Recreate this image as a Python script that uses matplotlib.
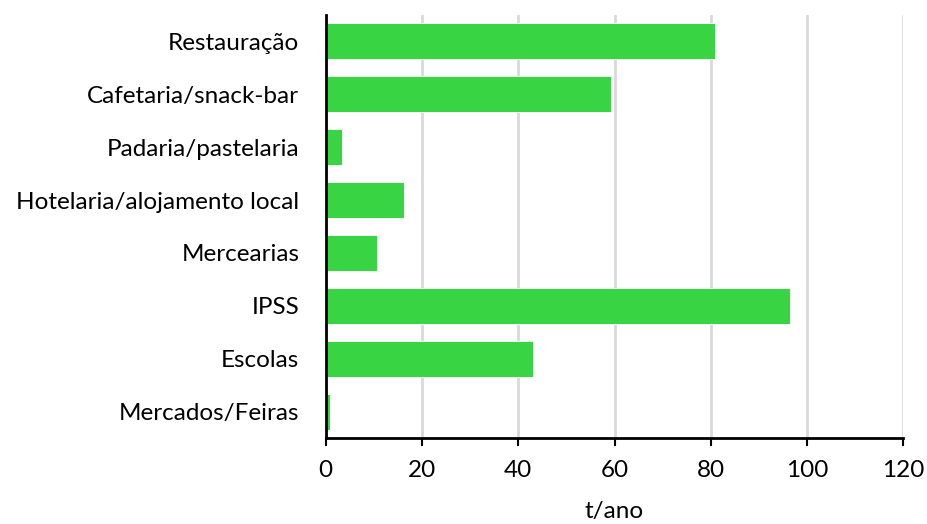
import matplotlib.pyplot as plt

categories = [
    "Restauração",
    "Cafetaria/snack-bar",
    "Padaria/pastelaria",
    "Hotelaria/alojamento local",
    "Mercearias",
    "IPSS",
    "Escolas",
    "Mercados/Feiras",
]
values = [80.8, 59.3, 3.4, 16.3, 10.7, 96.5, 43.1, 0.9]
x_ticks = [0, 20, 40, 60, 80, 100, 120]

plt.rcParams["font.family"] = ["Lato", "DejaVu Sans"]

fig = plt.figure(figsize=(9.27, 5.24), dpi=100)
ax = fig.add_axes([0.3514, 0.1641, 0.6230, 0.8073])

pos = list(range(len(categories)))
ax.barh(pos, values, height=0.68, color="#39D444", edgecolor="white", linewidth=0.6, zorder=3)

ax.set_ylim(len(categories) - 0.5, -0.5)
ax.set_xlim(0, 120)
ax.set_yticks(pos)
ax.set_yticklabels(categories, fontsize=17.5)
ax.set_xticks(x_ticks)
ax.set_xticklabels([str(t) for t in x_ticks], fontsize=17.5)
ax.tick_params(axis="y", length=0, pad=19)
ax.tick_params(axis="x", length=6, width=1.5, direction="out", pad=10)

ax.grid(axis="x", color="#D9D9D9", linewidth=2, zorder=0)
for side in ["top", "right"]:
    ax.spines[side].set_visible(False)
ax.spines["left"].set_linewidth(2)
ax.spines["bottom"].set_linewidth(2)
ax.spines["left"].set_zorder(4)

ax.set_xlabel("t/ano", fontsize=17.5, labelpad=14)

fig.savefig("out.png", dpi=100)
